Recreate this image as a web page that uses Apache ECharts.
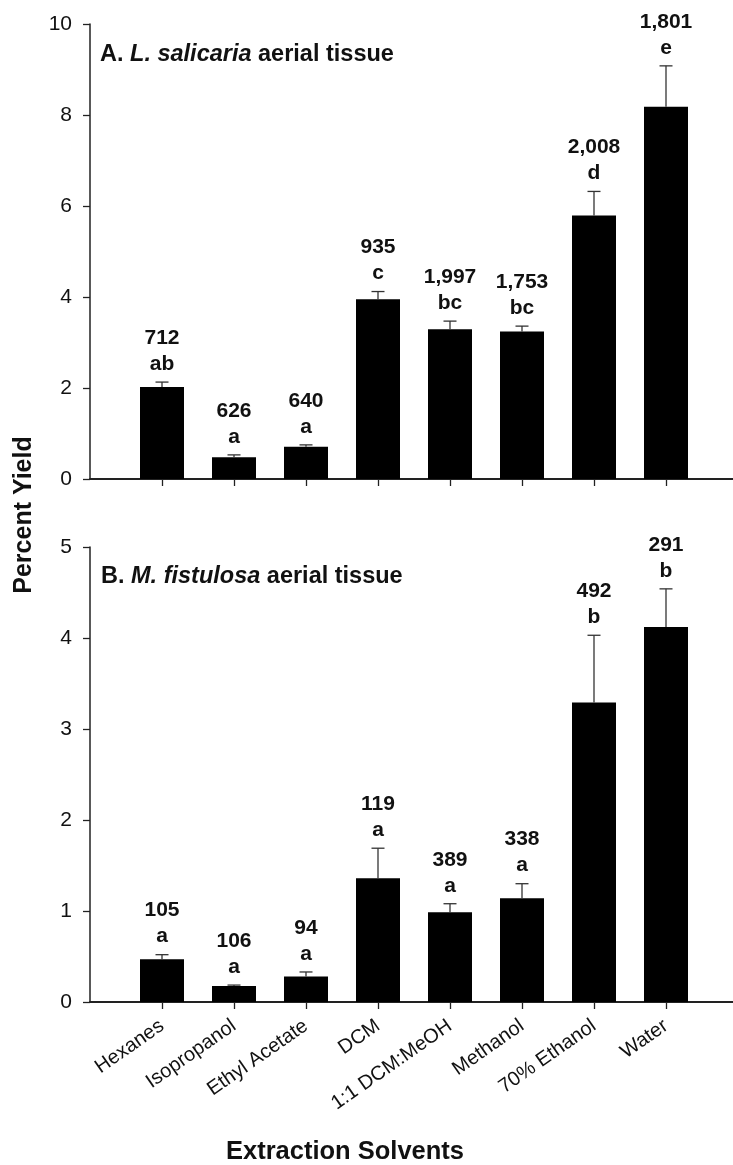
<!DOCTYPE html>
<html>
<head>
<meta charset="utf-8">
<script src="https://cdn.jsdelivr.net/npm/echarts@6/dist/echarts.min.js"></script>
<style>
  html, body { margin: 0; padding: 0; background: #fff; }
  #chart { width: 733px; height: 1165px; }
</style>
</head>
<body>
<div id="chart"></div>
<script>
// Extraction solvents (x categories, shared by both panels)
const categories = ['Hexanes', 'Isopropanol', 'Ethyl Acetate', 'DCM', '1:1 DCM:MeOH', 'Methanol', '70% Ethanol', 'Water'];

// Panel A: L. salicaria aerial tissue — mean percent yield, error, n and group letters
const yieldA = [2.02, 0.48, 0.71, 3.95, 3.29, 3.24, 5.79, 8.18];
const errA = [0.11, 0.05, 0.04, 0.17, 0.18, 0.12, 0.53, 0.90];
const countA = ['712', '626', '640', '935', '1,997', '1,753', '2,008', '1,801'];
const groupA = ['ab', 'a', 'a', 'c', 'bc', 'bc', 'd', 'e'];

// Panel B: M. fistulosa aerial tissue
const yieldB = [0.47, 0.176, 0.28, 1.36, 0.985, 1.14, 3.29, 4.12];
const errB = [0.05, 0.01, 0.05, 0.33, 0.095, 0.16, 0.74, 0.42];
const countB = ['105', '106', '94', '119', '389', '338', '492', '291'];
const groupB = ['a', 'a', 'a', 'a', 'a', 'a', 'b', 'b'];

// Y tick settings per panel
const ticksA = { max: 10, interval: 2 };
const ticksB = { max: 5, interval: 1 };

const FONT = 'Liberation Sans, Arial, Helvetica, sans-serif';
const INK = '#111';

// Pad the category axis with an empty slot on each side
const axisCats = [''].concat(categories, ['']);
const pad = arr => [null].concat(arr, [null]);

function errorData(means, errs, counts, groups) {
  return means.map((m, i) => [i + 1, m, errs[i], counts[i], groups[i]]);
}

function makeRenderer(rows) {
  return function (params, api) {
    const x = api.value(0);
    const mean = api.value(1);
    const err = api.value(2);
    const row = rows[params.dataIndex];
    const base = api.coord([x, mean]);
    const top = api.coord([x, mean + err]);
    const cap = 6.5;
    return {
      type: 'group',
      children: [
        { type: 'line', shape: { x1: base[0], y1: base[1], x2: top[0], y2: top[1] },
          style: { stroke: '#333', lineWidth: 1.3 } },
        { type: 'line', shape: { x1: top[0] - cap, y1: top[1], x2: top[0] + cap, y2: top[1] },
          style: { stroke: '#333', lineWidth: 1.3 } },
        { type: 'text',
          style: { text: row[3] + '\n' + row[4], x: top[0], y: top[1] - 5,
                   textAlign: 'center', textVerticalAlign: 'bottom',
                   fontFamily: FONT, fontWeight: 'bold', fontSize: 21, lineHeight: 26, fill: INK } }
      ]
    };
  };
}

function xAxisFor(gridIndex, showLabels) {
  return {
    type: 'category', gridIndex, data: axisCats, boundaryGap: false,
    axisLine: { lineStyle: { color: '#222', width: 2 } },
    axisTick: { length: 7, interval: i => i > 0 && i < axisCats.length - 1,
                lineStyle: { color: '#222', width: 1.3 } },
    axisLabel: { show: showLabels, interval: 0, rotate: 35, margin: 22,
                 fontFamily: FONT, fontSize: 20, color: INK },
    splitLine: { show: false }
  };
}

function yAxisFor(gridIndex, t) {
  return {
    type: 'value', gridIndex, min: 0, max: t.max, interval: t.interval,
    axisLine: { show: true, lineStyle: { color: '#222', width: 1.5 } },
    axisTick: { show: true, length: 7, lineStyle: { color: '#222', width: 1.3 } },
    axisLabel: { margin: 18, fontFamily: FONT, fontSize: 21, color: INK },
    splitLine: { show: false }
  };
}

const rowsA = errorData(yieldA, errA, countA, groupA);
const rowsB = errorData(yieldB, errB, countB, groupB);

const titleRich = {
  b: { fontFamily: FONT, fontWeight: 'bold', fontSize: 23.5, color: INK },
  i: { fontFamily: FONT, fontStyle: 'italic', fontSize: 23.5, color: INK },
  n: { fontFamily: FONT, fontSize: 23.5, color: INK }
};

const option = {
  animation: false,
  backgroundColor: '#fff',
  title: [
    { text: '{b|A.} {i|L. salicaria}{n| aerial tissue}', left: 100, top: 43, padding: 0,
      textStyle: { rich: titleRich, fontSize: 23.5 } },
    { text: '{b|B.} {i|M. fistulosa}{n| aerial tissue}', left: 101, top: 565, padding: 0,
      textStyle: { rich: titleRich, fontSize: 23.5 } }
  ],
  grid: [
    { left: 90, width: 648, top: 24, height: 455, outerBoundsMode: 'none', containLabel: false },
    { left: 90, width: 648, top: 547, height: 455, outerBoundsMode: 'none', containLabel: false }
  ],
  xAxis: [xAxisFor(0, false), xAxisFor(1, true)],
  yAxis: [yAxisFor(0, ticksA), yAxisFor(1, ticksB)],
  series: [
    { type: 'bar', xAxisIndex: 0, yAxisIndex: 0, data: pad(yieldA), barWidth: 44,
      itemStyle: { color: '#000' } },
    { type: 'custom', xAxisIndex: 0, yAxisIndex: 0, data: rowsA, z: 3,
      renderItem: makeRenderer(rowsA) },
    { type: 'bar', xAxisIndex: 1, yAxisIndex: 1, data: pad(yieldB), barWidth: 44,
      itemStyle: { color: '#000' } },
    { type: 'custom', xAxisIndex: 1, yAxisIndex: 1, data: rowsB, z: 3,
      renderItem: makeRenderer(rowsB) }
  ],
  graphic: [
    { type: 'text', x: 24, y: 515, rotation: Math.PI / 2,
      style: { text: 'Percent Yield', textAlign: 'center', textVerticalAlign: 'middle',
               fontFamily: FONT, fontWeight: 'bold', fontSize: 25, fill: INK } },
    { type: 'text', x: 345, y: 1152,
      style: { text: 'Extraction Solvents', textAlign: 'center', textVerticalAlign: 'middle',
               fontFamily: FONT, fontWeight: 'bold', fontSize: 25.5, fill: INK } }
  ]
};

const chart = echarts.init(document.getElementById('chart'), null, { renderer: 'canvas' });
chart.setOption(option);
</script>
</body>
</html>
